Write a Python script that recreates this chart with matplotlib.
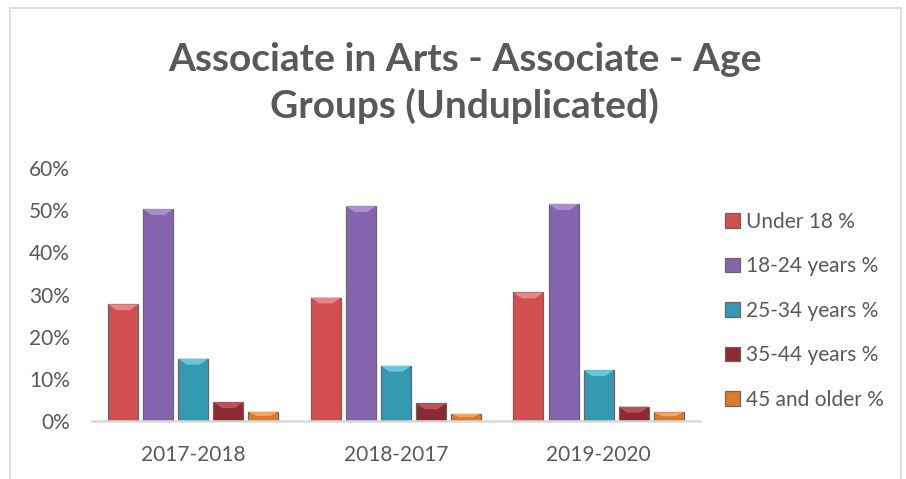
import matplotlib
matplotlib.use('Agg')
import matplotlib.pyplot as plt
from matplotlib.patches import Rectangle, Polygon
import numpy as np

# chart data
years = ['2017-2018', '2018-2017', '2019-2020']
groups = ['Under 18 %', '18-24 years %', '25-34 years %', '35-44 years %', '45 and older %']
under_18 = [0.277, 0.293, 0.305]
age_18_24 = [0.503, 0.510, 0.515]
age_25_34 = [0.148, 0.131, 0.121]
age_35_44 = [0.045, 0.042, 0.034]
age_45_up = [0.022, 0.017, 0.021]
yticks = [0, 0.1, 0.2, 0.3, 0.4, 0.5, 0.6]

series = [under_18, age_18_24, age_25_34, age_35_44, age_45_up]
colors = ['#D14F4F', '#8465AD', '#3399B1', '#8C2A2F', '#DE7A28']
tops = ['#E98585', '#A98FCC', '#6CC6DA', '#B65358', '#F3A566']

plt.rcParams['font.family'] = ['Lato', 'DejaVu Sans']
text_col = '#595959'

fig = plt.figure(figsize=(9.06, 4.79), dpi=100)
ax = fig.add_axes([0.1015, 0.121, 0.671, 0.528])

# light frame around the chart
fig.patches.append(Rectangle((10 / 906, -0.01), 0.995 - 10 / 906, 1 - 8 / 479 + 0.01,
                             transform=fig.transFigure, fill=False,
                             edgecolor='#D9D9D9', linewidth=1.2))

x = np.arange(len(years))
step = 0.173
width = 0.148
for i, (vals, name) in enumerate(zip(series, groups)):
    bars = ax.bar(x + (i - 2) * step, vals, width, color=colors[i], edgecolor='#666666',
                  linewidth=0.9, label=name, zorder=3)
    # bevel highlight on top of each bar
    for b in bars:
        bx, bw, bh = b.get_x(), b.get_width(), b.get_height()
        d = min(0.014, bh * 0.45)
        ax.add_patch(Polygon([(bx, bh), (bx + bw, bh), (bx + bw * 0.72, bh - d), (bx + bw * 0.28, bh - d)],
                             closed=True, color=tops[i], lw=0, zorder=4))

ax.set_xlim(-0.5, 2.5)
ax.set_ylim(0, 0.6)
ax.set_yticks(yticks)
ax.set_yticklabels([f'{int(round(t * 100))}%' for t in yticks])
ax.set_xticks(x)
ax.set_xticklabels(years)
ax.tick_params(axis='both', length=0, labelsize=15, colors=text_col)
ax.tick_params(axis='y', pad=16)
ax.tick_params(axis='x', pad=17)
for s in ['top', 'right', 'left']:
    ax.spines[s].set_visible(False)
ax.spines['bottom'].set_color('#D9D9D9')
ax.spines['bottom'].set_linewidth(1.8)
ax.spines['bottom'].set_zorder(5)

fig.text(0.513, 1 - 83 / 479, 'Associate in Arts - Associate - Age\nGroups (Unduplicated)',
         ha='center', va='center', fontsize=28, fontweight='bold', color=text_col,
         linespacing=1.35)

leg = fig.legend(loc='upper left', bbox_to_anchor=(725 / 906, 1 - 212 / 479), frameon=False,
                 fontsize=15, handlelength=0.7, handleheight=0.7, handletextpad=0.3,
                 labelspacing=1.17, borderaxespad=0, borderpad=0)
for t in leg.get_texts():
    t.set_color(text_col)

fig.savefig('out.png', dpi=100)
